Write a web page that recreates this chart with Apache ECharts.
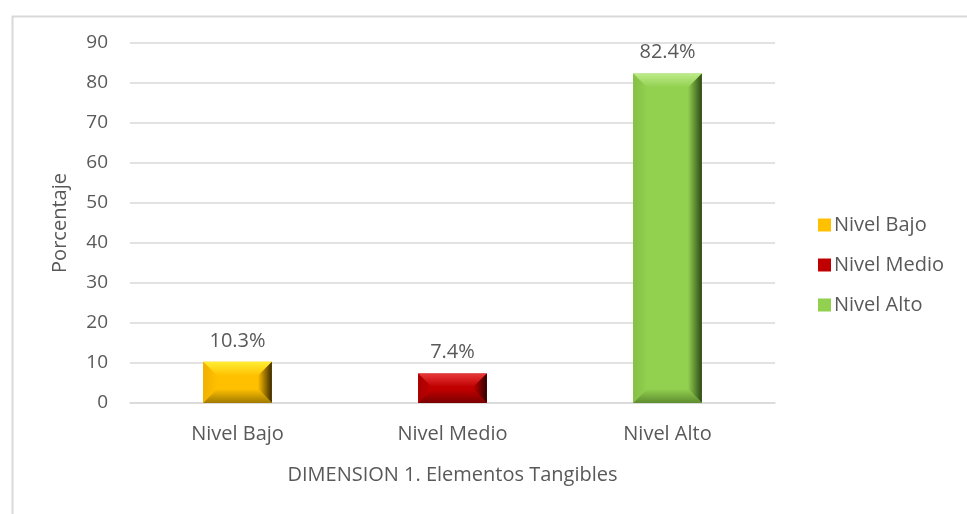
<!DOCTYPE html>
<html>
<head>
<meta charset="utf-8">
<script src="https://cdn.jsdelivr.net/npm/echarts@6/dist/echarts.min.js"></script>
<style>
  html, body { margin: 0; padding: 0; background: #fff; }
  #chart { width: 967px; height: 514px; }
</style>
</head>
<body>
<div id="chart"></div>
<script>
const categories = ['Nivel Bajo', 'Nivel Medio', 'Nivel Alto'];
const values = [10.3, 7.4, 82.4];
const labels = ['10.3%', '7.4%', '82.4%'];
const yTicks = [0, 10, 20, 30, 40, 50, 60, 70, 80, 90];

// bevel palette: face, top, left, right, bottom
const palettes = [
  { face: '#FFC000', top: '#FFEE33', left: '#F0B000', right: '#3a2a00', bottom: '#A07A00' },
  { face: '#C00000', top: '#E83A3A', left: '#A80000', right: '#300000', bottom: '#7A0000' },
  { face: '#92D050', top: '#BDEB8A', left: '#84C044', right: '#2c4a16', bottom: '#5E8C30' }
];

const font = '"Open Sans", sans-serif';
const textColor = '#595959';

function bevelBar(idx) {
  return function (params, api) {
    const val = api.value(1);
    const top = api.coord([idx, val]);
    const base = api.coord([idx, 0]);
    const w = api.size([1, 0])[0] * 0.32;
    const x0 = top[0] - w / 2, x1 = top[0] + w / 2;
    const y0 = top[1], y1 = base[1];
    const h = y1 - y0;
    const b = Math.min(14, h / 2.2, w / 2.2);
    const p = palettes[idx];
    const grad = (x, y, x2, y2, c1, c2) => new echarts.graphic.LinearGradient(x, y, x2, y2, [
      { offset: 0, color: c1 }, { offset: 1, color: c2 }
    ]);
    return {
      type: 'group',
      children: [
        { type: 'rect', shape: { x: x0, y: y0, width: w, height: h }, style: { fill: p.face } },
        { type: 'polygon', shape: { points: [[x0, y0], [x1, y0], [x1 - b, y0 + b], [x0 + b, y0 + b]] },
          style: { fill: grad(0, 0, 0, 1, p.top, p.face) } },
        { type: 'polygon', shape: { points: [[x0, y0], [x0 + b, y0 + b], [x0 + b, y1 - b], [x0, y1]] },
          style: { fill: grad(0, 0, 1, 0, p.left, p.face) } },
        { type: 'polygon', shape: { points: [[x1, y0], [x1, y1], [x1 - b, y1 - b], [x1 - b, y0 + b]] },
          style: { fill: grad(0, 0, 1, 0, p.face, p.right) } },
        { type: 'polygon', shape: { points: [[x0, y1], [x0 + b, y1 - b], [x1 - b, y1 - b], [x1, y1]] },
          style: { fill: grad(0, 0, 0, 1, p.face, p.bottom) } },
        { type: 'text', x: top[0], y: y0 - 11,
          style: { text: labels[idx], fill: textColor, font: '20px ' + font, align: 'center', verticalAlign: 'bottom' } }
      ]
    };
  };
}

const chart = echarts.init(document.getElementById('chart'));
const option = {
  backgroundColor: '#fff',
  animation: false,
  graphic: [{
    type: 'rect', left: 10, top: 14, silent: true, z: -1,
    shape: { width: 1000, height: 560 },
    style: { fill: 'none', stroke: '#d9d9d9', lineWidth: 2 }
  }],
  grid: { left: 130, right: 192, top: 43, bottom: 111 },
  legend: {
    orient: 'vertical',
    left: 813,
    top: 210,
    itemGap: 20,
    itemWidth: 13,
    itemHeight: 13,
    icon: 'rect',
    textStyle: { color: textColor, fontSize: 20, fontFamily: font, padding: [0, 0, 0, -2] },
    data: categories
  },
  xAxis: {
    type: 'category',
    data: categories,
    name: 'DIMENSION 1. Elementos Tangibles',
    nameLocation: 'middle',
    nameGap: 62,
    nameTextStyle: { color: textColor, fontSize: 20, fontFamily: font },
    axisLine: { lineStyle: { color: '#d9d9d9', width: 1.5 } },
    axisTick: { show: false },
    axisLabel: { color: textColor, fontSize: 20, fontFamily: font, margin: 21 }
  },
  yAxis: {
    type: 'value',
    min: yTicks[0],
    max: yTicks[yTicks.length - 1],
    interval: 10,
    name: 'Porcentaje',
    nameLocation: 'middle',
    nameGap: 60,
    nameTextStyle: { color: textColor, fontSize: 20, fontFamily: font },
    axisLine: { show: false },
    axisTick: { show: false },
    axisLabel: { color: textColor, fontSize: 19, fontFamily: font, margin: 22 },
    splitLine: { lineStyle: { color: '#d9d9d9', width: 1.5 } }
  },
  series: categories.map((name, i) => ({
    name: name,
    type: 'custom',
    itemStyle: { color: palettes[i].face },
    renderItem: bevelBar(i),
    encode: { x: 0, y: 1 },
    data: [[i, values[i]]]
  }))
};
chart.setOption(option);
</script>
</body>
</html>
